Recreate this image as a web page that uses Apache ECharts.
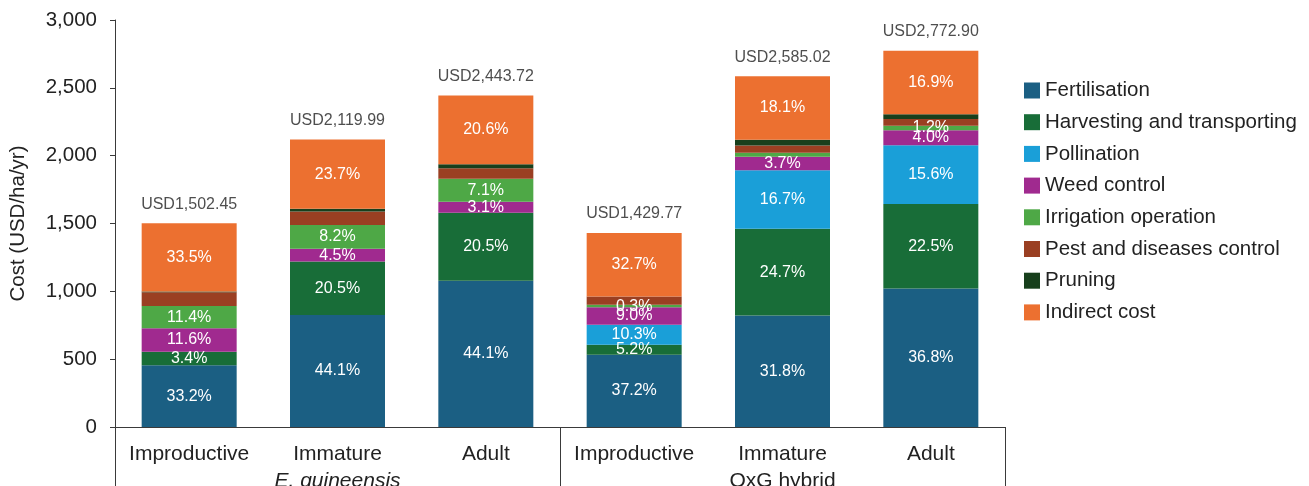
<!DOCTYPE html>
<html>
<head>
<meta charset="utf-8">
<script src="https://cdn.jsdelivr.net/npm/echarts@6/dist/echarts.min.js"></script>
<style>
  html, body { margin: 0; padding: 0; background: #ffffff; }
  #chart { width: 1309px; height: 486px; }
</style>
</head>
<body>
<div id="chart"></div>
<script>
// Production stages (inner axis) and palm types (outer axis)
const stages = ['Improductive', 'Immature', 'Adult', 'Improductive', 'Immature', 'Adult'];
const groups = ['E. guineensis', 'OxG hybrid'];

// Total annual cost per stage, USD/ha/yr
const totals = [1502.45, 2119.99, 2443.72, 1429.77, 2585.02, 2772.90];

// Cost components, USD/ha/yr
const fertilisation = [455, 826, 1077.7, 531.9, 822, 1020.4];
const harvesting    = [100, 393, 501, 74.3, 638.5, 623.9];
const pollination   = [0, 0, 0, 147.3, 431.7, 432.6];
const weedControl   = [172, 95.4, 82, 128.7, 100, 110.9];
const irrigation    = [165, 173.8, 170, 18, 30, 33.3];
const pestControl   = [102, 100, 76, 62, 52, 50];
const pruning       = [5, 20, 30, 0, 44, 35];
const indirectCost  = [503.45, 511.79, 507.02, 467.57, 466.82, 466.8];

// Share labels printed inside the segments
const fertLabels     = ['33.2%', '44.1%', '44.1%', '37.2%', '31.8%', '36.8%'];
const harvLabels     = ['3.4%', '20.5%', '20.5%', '5.2%', '24.7%', '22.5%'];
const pollLabels     = ['', '', '', '10.3%', '16.7%', '15.6%'];
const weedLabels     = ['11.6%', '4.5%', '3.1%', '9.0%', '3.7%', '4.0%'];
const irrLabels      = ['11.4%', '8.2%', '7.1%', '0.3%', '', '1.2%'];
const pestLabels     = ['', '', '', '', '', ''];
const pruningLabels  = ['', '', '', '', '', ''];
const indirectLabels = ['33.5%', '23.7%', '20.6%', '32.7%', '18.1%', '16.9%'];

// Y-axis ticks
const yMin = 0, yMax = 3000, yStep = 500;

const FONT = '"Liberation Sans", Arial, Helvetica, sans-serif';
const INK = '#222222';
const AXIS = '#3a3a3a';

const components = [
  { name: 'Fertilisation',               data: fertilisation, labels: fertLabels,     color: '#1b5f83' },
  { name: 'Harvesting and transporting', data: harvesting,    labels: harvLabels,     color: '#186d38' },
  { name: 'Pollination',                 data: pollination,   labels: pollLabels,     color: '#1a9fd8' },
  { name: 'Weed control',                data: weedControl,   labels: weedLabels,     color: '#a02a8f' },
  { name: 'Irrigation operation',        data: irrigation,    labels: irrLabels,      color: '#4ea846' },
  { name: 'Pest and diseases control',   data: pestControl,   labels: pestLabels,     color: '#9a3f22' },
  { name: 'Pruning',                     data: pruning,       labels: pruningLabels,  color: '#173f1c' },
  { name: 'Indirect cost',               data: indirectCost,  labels: indirectLabels, color: '#ec7030' }
];

const barSeries = components.map(c => ({
  name: c.name,
  type: 'bar',
  stack: 'cost',
  barWidth: 95,
  data: c.data,
  itemStyle: { color: c.color },
  label: {
    show: true,
    position: 'inside',
    color: '#ffffff',
    fontFamily: FONT,
    fontSize: 16,
    formatter: p => c.labels[p.dataIndex]
  },
  emphasis: { disabled: true }
}));

// Totals written above each stack
const totalSeries = {
  name: 'Total',
  type: 'scatter',
  data: totals,
  symbolSize: 0,
  itemStyle: { color: 'transparent' },
  label: {
    show: true,
    position: 'top',
    distance: 11,
    color: INK,
    fontFamily: FONT,
    fontSize: 16,
    formatter: p => 'USD' + p.value.toLocaleString('en-US', { minimumFractionDigits: 2, maximumFractionDigits: 2 })
  },
  emphasis: { disabled: true }
};

const chart = echarts.init(document.getElementById('chart'), null, { renderer: 'canvas' });

chart.setOption({
  animation: false,
  backgroundColor: '#ffffff',
  textStyle: { fontFamily: FONT },
  grid: { left: 115, right: 304, top: 20, bottom: 59, containLabel: false, outerBoundsMode: 'none' },
  legend: {
    data: components.map(c => c.name),
    orient: 'vertical',
    left: 1019,
    top: 75,
    icon: 'rect',
    itemWidth: 16,
    itemHeight: 16,
    itemGap: 10.7,
    selectedMode: false,
    textStyle: { color: INK, fontFamily: FONT, fontSize: 20.5, lineHeight: 20 }
  },
  xAxis: [
    {
      type: 'category',
      position: 'bottom',
      data: stages,
      axisLine: { show: true, lineStyle: { color: AXIS, width: 1 } },
      axisTick: { show: false },
      axisLabel: { color: INK, fontFamily: FONT, fontSize: 21, margin: 17, interval: 0 }
    },
    {
      type: 'category',
      position: 'bottom',
      data: groups,
      axisLine: { show: false },
      axisTick: { show: true, length: 62, lineStyle: { color: AXIS, width: 1 } },
      axisLabel: {
        color: INK,
        fontFamily: FONT,
        fontSize: 21,
        margin: 44,
        interval: 0,
        formatter: v => v === groups[0] ? '{i|' + v + '}' : v,
        rich: { i: { fontStyle: 'italic', fontFamily: FONT, fontSize: 21, color: INK } }
      }
    }
  ],
  yAxis: {
    type: 'value',
    min: yMin,
    max: yMax,
    interval: yStep,
    name: 'Cost (USD/ha/yr)',
    nameLocation: 'middle',
    nameGap: 86,
    nameTextStyle: { color: INK, fontFamily: FONT, fontSize: 20.5 },
    axisLine: { show: true, lineStyle: { color: AXIS, width: 1 } },
    axisTick: { show: true, inside: false, length: 5, lineStyle: { color: AXIS } },
    splitLine: { show: false },
    axisLabel: {
      color: INK,
      fontFamily: FONT,
      fontSize: 20.5,
      margin: 18,
      formatter: v => v.toLocaleString('en-US')
    }
  },
  series: [...barSeries, totalSeries]
});
</script>
</body>
</html>
